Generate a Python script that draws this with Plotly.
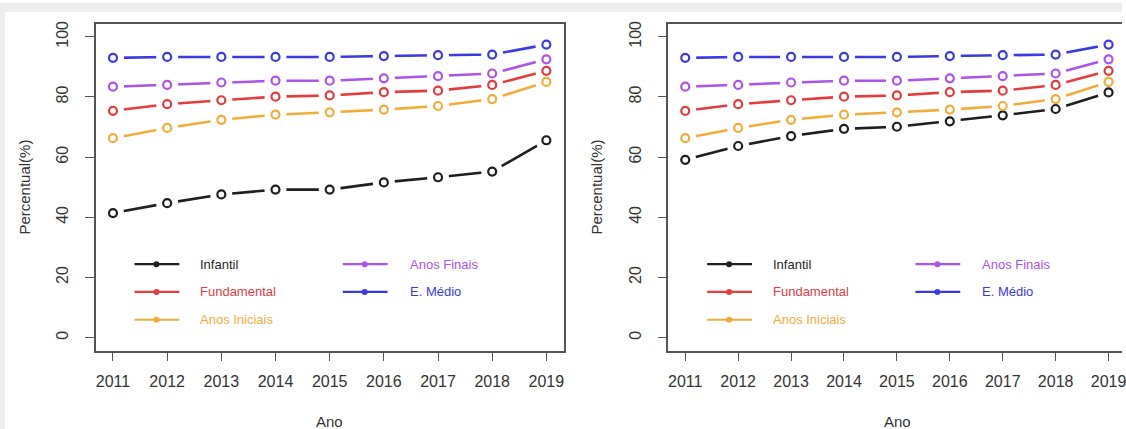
import plotly.graph_objects as go

# ---------------- data ----------------
years = [2011, 2012, 2013, 2014, 2015, 2016, 2017, 2018, 2019]
tick_years = years
y_ticks = [0, 20, 40, 60, 80, 100]

series_names = ["Infantil", "Fundamental", "Anos Iniciais", "Anos Finais", "E. Médio"]

infantil_left = [41.4, 44.7, 47.6, 49.2, 49.2, 51.6, 53.3, 55.2, 65.6]
infantil_right = [59.1, 63.7, 67.0, 69.4, 70.1, 71.9, 73.9, 76.0, 81.5]
fundamental = [75.4, 77.6, 78.9, 80.1, 80.5, 81.6, 82.1, 84.0, 88.7]
anos_iniciais = [66.3, 69.7, 72.4, 74.1, 74.9, 75.8, 77.0, 79.3, 85.0]
anos_finais = [83.4, 84.0, 84.8, 85.4, 85.4, 86.2, 86.9, 87.8, 92.5]
e_medio = [93.0, 93.3, 93.3, 93.3, 93.3, 93.6, 93.9, 94.1, 97.4]

left_panel = [infantil_left, fundamental, anos_iniciais, anos_finais, e_medio]
right_panel = [infantil_right, fundamental, anos_iniciais, anos_finais, e_medio]

# ---------------- styling ----------------
colors = ["#1e1e1e", "#e43c3c", "#f2ad38", "#ad52ea", "#3a3ae4"]
W, H = 1126, 429
FONT = "Liberation Sans, Arial, sans-serif"
AXC = "#555555"
TXT = "#333333"


def px(x):
    return x / W


def py(y):
    return 1 - y / H


frame_top, frame_bot = 21, 350
left_x0, left_x1 = 96, 565.7
right_x0 = 670.7

fig = go.Figure()

for xa, ya, data in [("x", "y", left_panel), ("x2", "y2", right_panel)]:
    # lines with white gaps around points (R type="b" look)
    for vals, col, name in zip(data, colors, series_names):
        fig.add_trace(go.Scatter(x=years, y=vals, mode="lines", xaxis=xa, yaxis=ya,
                                 line=dict(color=col, width=2.6), showlegend=False,
                                 hoverinfo="skip"))
        fig.add_trace(go.Scatter(x=years, y=vals, mode="markers", xaxis=xa, yaxis=ya,
                                 marker=dict(color="white", size=22, line=dict(width=0)),
                                 showlegend=False, hoverinfo="skip"))
    # open circle points on top
    for vals, col, name in zip(data, colors, series_names):
        fig.add_trace(go.Scatter(x=years, y=vals, mode="markers", xaxis=xa, yaxis=ya,
                                 marker=dict(symbol="circle-open", color=col, size=8,
                                             line=dict(width=2.2, color=col)),
                                 name=name, showlegend=False))

axis_common = dict(showgrid=False, zeroline=False, ticks="outside", ticklen=9,
                   tickcolor=AXC, tickwidth=1.2, showline=True, linecolor=AXC,
                   linewidth=1.6, tickfont=dict(family=FONT, size=16, color=TXT))

fig.update_layout(
    width=W, height=H,
    margin=dict(l=0, r=0, t=0, b=0),
    paper_bgcolor="white", plot_bgcolor="white",
    xaxis=dict(domain=[px(left_x0), px(left_x1)], range=[2010.68, 2019.32],
               tickvals=tick_years, mirror=True, anchor="y", ticklabelstandoff=6,
               **axis_common),
    yaxis=dict(domain=[py(frame_bot), py(frame_top)], range=[-4.3, 104.3],
               tickvals=y_ticks, tickangle=-90, mirror=True, anchor="x",
               ticklabelstandoff=10, **axis_common),
    xaxis2=dict(domain=[px(right_x0), 1.0], range=[2010.68, 2019.254],
                tickvals=tick_years, mirror=True, anchor="y2", ticklabelstandoff=6,
                ticklabeloverflow="allow", **axis_common),
    yaxis2=dict(domain=[py(frame_bot), py(frame_top)], range=[-4.3, 104.3],
                tickvals=y_ticks, tickangle=-90, mirror=False, anchor="x2",
                ticklabelstandoff=10, **axis_common),
)

shapes = [
    dict(type="rect", xref="paper", yref="paper", x0=0, x1=1, y0=py(9), y1=1,
         fillcolor="#eeeeee", line=dict(width=0), layer="below"),
    dict(type="rect", xref="paper", yref="paper", x0=0, x1=px(5), y0=0, y1=1,
         fillcolor="#eeeeee", line=dict(width=0), layer="below"),
]
annotations = []

# axis titles
for fx0, fx1, ylab_x in [(left_x0, left_x1, 25), (right_x0, 1130, 599)]:
    annotations.append(dict(xref="paper", yref="paper", x=px((fx0 + fx1) / 2), y=py(421),
                            xanchor="center", yanchor="middle",
                            text="Ano", showarrow=False,
                            font=dict(family=FONT, size=15, color=TXT)))
    annotations.append(dict(xref="paper", yref="paper", x=px(ylab_x), y=py(185),
                            xanchor="center", yanchor="middle",
                            text="Percentual(%)", textangle=-90, showarrow=False,
                            font=dict(family=FONT, size=15, color=TXT)))

# legends (two columns inside each panel)
legend_slots = [(0, 263), (0, 291), (0, 319), (1, 263), (1, 291)]
for fx0 in [left_x0, right_x0]:
    for (colidx, yy), col, name in zip(legend_slots, colors, series_names):
        lx0 = fx0 + (39 if colidx == 0 else 248)
        lx1 = lx0 + 45
        dotx = lx0 + 22
        tx = fx0 + (103 if colidx == 0 else 313)
        shapes.append(dict(type="line", xref="paper", yref="paper",
                           x0=px(lx0), x1=px(lx1), y0=py(yy), y1=py(yy),
                           line=dict(color=col, width=2.2)))
        shapes.append(dict(type="circle", xref="paper", yref="paper",
                           x0=px(dotx - 3), x1=px(dotx + 3), y0=py(yy + 3), y1=py(yy - 3),
                           fillcolor=col, line=dict(color=col, width=0)))
        annotations.append(dict(xref="paper", yref="paper", x=px(tx), y=py(yy),
                                xanchor="left", yanchor="middle", text=name,
                                showarrow=False,
                                font=dict(family=FONT, size=13, color=col)))

fig.update_layout(shapes=shapes, annotations=annotations)

fig.write_html("out.html",
               config={"displayModeBar": False},
               post_script="document.body.style.margin='0';"
                           "document.body.style.overflow='hidden';")
